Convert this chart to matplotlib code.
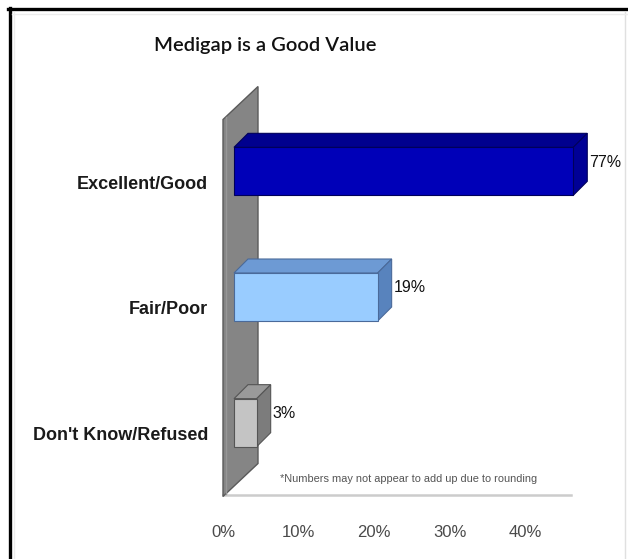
import matplotlib
matplotlib.use("Agg")
import matplotlib.pyplot as plt
from matplotlib.patches import Polygon
from matplotlib.lines import Line2D

# ---- data ----
categories = ["Don't Know/Refused", "Fair/Poor", "Excellent/Good"]
values = [3, 19, 77]
value_labels = ["3%", "19%", "77%"]
tick_values = [0, 10, 20, 30, 40]
tick_labels = ["0%", "10%", "20%", "30%", "40%"]
title = "Medigap is a Good Value"
footnote = "*Numbers may not appear to add up due to rounding"

# ---- styling ----
front_colors = ["#c4c4c4", "#99ccff", "#0000b8"]
top_colors = ["#9a9a9a", "#6d9ad4", "#00008e"]
side_colors = ["#7c7c7c", "#5883bd", "#000096"]
edge_colors = ["#555555", "#4a6a9a", "#00005a"]

W, H, DPI = 628, 559, 100
fig = plt.figure(figsize=(W / DPI, H / DPI), dpi=DPI)
fig.patch.set_facecolor("white")

XMAX = 46.0
ax_left_px, ax_right_px = 223, 223 + XMAX * 7.56
ax_top_px, ax_bot_px = 119.5, 496.5
ax = fig.add_axes([ax_left_px / W, (H - ax_bot_px) / H,
                   (ax_right_px - ax_left_px) / W, (ax_bot_px - ax_top_px) / H])
ax.set_xlim(0, XMAX)
ax.set_ylim(-0.5, 2.5)
ax.axis("off")

px_x = (ax_right_px - ax_left_px) / XMAX       # pixels per % unit
px_y = (ax_bot_px - ax_top_px) / 3.0           # pixels per category unit

def dx(p):
    return p / px_x

def dy(p):
    return p / px_y

# wall (side wall at x = 0)
wall_d = 35
wall = Polygon([(0, -0.5), (0, 2.5), (dx(wall_d), 2.5 + dy(33)), (dx(wall_d), -0.5 + dy(33))],
               closed=True, facecolor="#858585", edgecolor="#5a5a5a", lw=1.0,
               clip_on=False, zorder=1)
ax.add_patch(wall)
ax.add_line(Line2D([dx(3), dx(3)], [-0.5 + dy(3), 2.5 + dy(3)], color="#979797", lw=1.0,
                   clip_on=False, zorder=1.1))

# floor line
ax.add_line(Line2D([0, XMAX], [-0.5 + dy(1.5), -0.5 + dy(1.5)], color="#cccccc", lw=1.8,
                   clip_on=False, zorder=0.5))

# bars
bar_off_x, bar_off_y = dx(11), dy(11)
bar_dx, bar_dy = dx(14), dy(14)
bh = dy(48) / 2
clip_end = XMAX - dx(11) - dx(-2.5)
for i, (cat, v) in enumerate(zip(categories, values)):
    x0 = bar_off_x
    x1 = bar_off_x + min(v, clip_end)
    yb = i + bar_off_y - bh
    yt = i + bar_off_y + bh
    front = Polygon([(x0, yb), (x1, yb), (x1, yt), (x0, yt)], closed=True,
                    facecolor=front_colors[i], edgecolor=edge_colors[i], lw=0.8,
                    clip_on=False, zorder=3)
    top = Polygon([(x0, yt), (x1, yt), (x1 + bar_dx, yt + bar_dy), (x0 + bar_dx, yt + bar_dy)],
                  closed=True, facecolor=top_colors[i], edgecolor=edge_colors[i], lw=0.8,
                  clip_on=False, zorder=3)
    side = Polygon([(x1, yb), (x1 + bar_dx, yb + bar_dy), (x1 + bar_dx, yt + bar_dy), (x1, yt)],
                   closed=True, facecolor=side_colors[i], edgecolor=edge_colors[i], lw=0.8,
                   clip_on=False, zorder=3)
    for p in (top, side, front):
        ax.add_patch(p)
    ax.text(x1 + bar_dx + dx(2), i + bar_off_y + bar_dy / 2 + dy(2), value_labels[i],
            ha="left", va="center", fontsize=11.5, color="#111111",
            family="Liberation Sans", zorder=4, clip_on=False)
    # category label
    ax.text(-dx(15), i - dy(2), cat, ha="right", va="center", fontsize=13,
            fontweight="bold", color="#1a1a1a", family="Liberation Sans", clip_on=False)

# x tick labels
for t, lab in zip(tick_values, tick_labels):
    ax.text(t, -0.5 - dy(36), lab, ha="center", va="center", fontsize=12,
            color="#4a4a4a", family="Liberation Sans", clip_on=False)

# footnote
ax.text(dx(57), -0.5 + dy(18), footnote, ha="left", va="center", fontsize=7.9,
        color="#555555", family="Liberation Sans", clip_on=False)

# title
fig.text(265 / W, 1 - 45 / H, title, ha="center", va="center", fontsize=14.5,
         color="#111111", family="Lato", fontweight="semibold")

# frame
fig.add_artist(Line2D([9.5 / W, 9.5 / W], [0, 1 - 8 / H], color="black", lw=2.4))
fig.add_artist(Line2D([8 / W, 1], [1 - 9 / H, 1 - 9 / H], color="black", lw=2.4))
fig.add_artist(Line2D([625 / W, 625 / W], [0, 1 - 12 / H], color="#e0e0e0", lw=1.0))
fig.add_artist(Line2D([14 / W, 14 / W], [0, 1 - 12 / H], color="#ececec", lw=1.0))
fig.add_artist(Line2D([12 / W, 1], [1 - 14 / H, 1 - 14 / H], color="#ececec", lw=1.0))

fig.savefig("out.png", dpi=DPI, facecolor="white")
